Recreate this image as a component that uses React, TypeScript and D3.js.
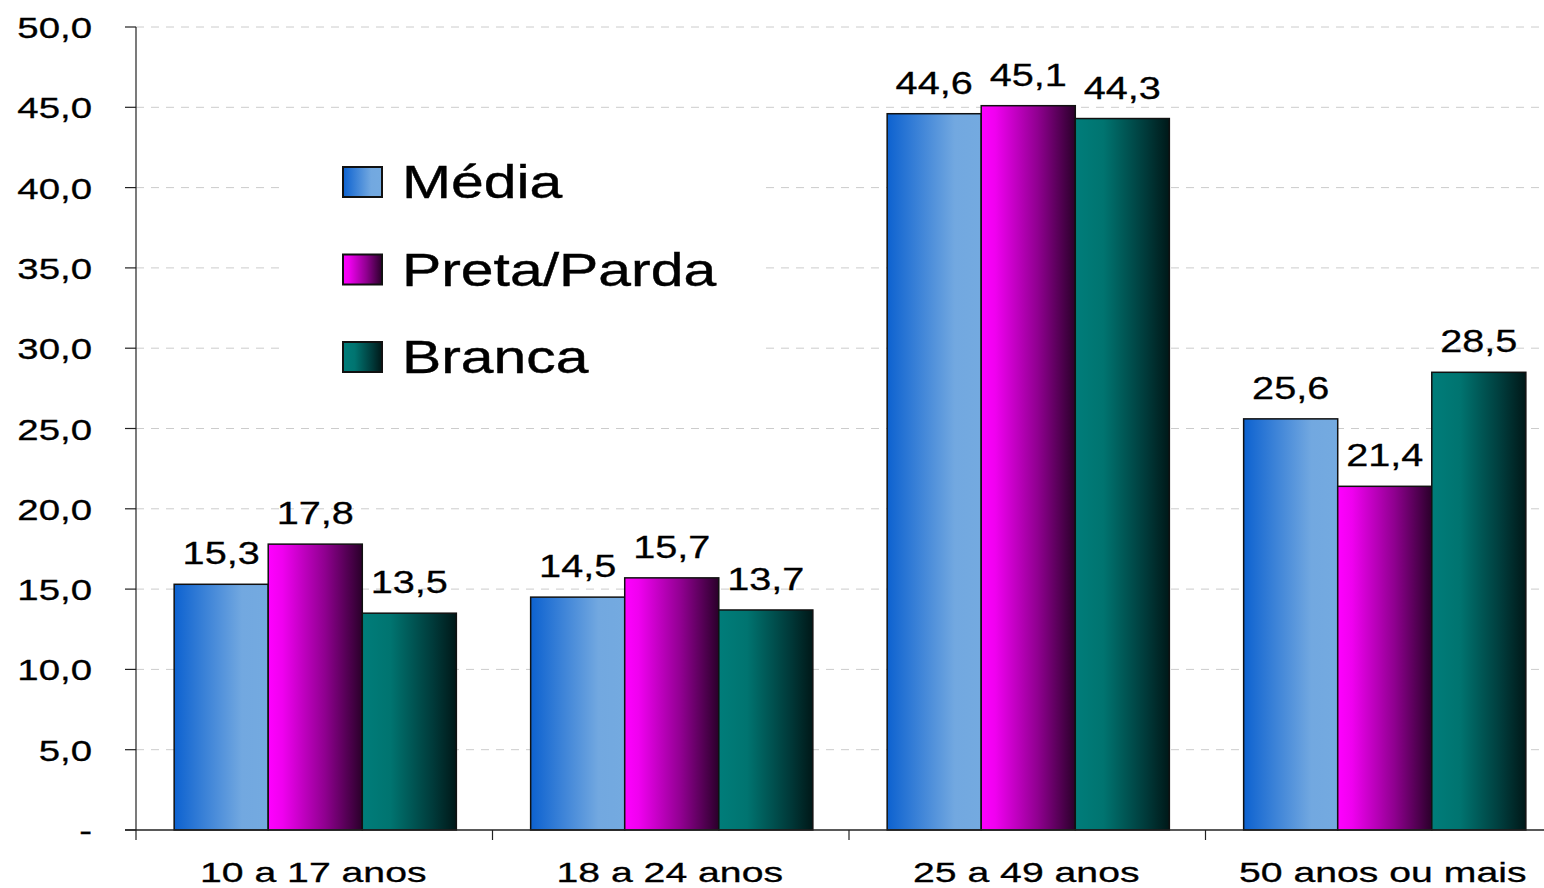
import React from "react";
import * as d3 from "d3";

// categorias e séries
const categories = ["10 a 17 anos", "18 a 24 anos", "25 a 49 anos", "50 anos ou mais"];
const seriesNames = ["Média", "Preta/Parda", "Branca"];
const media = [15.3, 14.5, 44.6, 25.6];
const pretaParda = [17.8, 15.7, 45.1, 21.4];
const branca = [13.5, 13.7, 44.3, 28.5];
const yTicks = [0, 5, 10, 15, 20, 25, 30, 35, 40, 45, 50];

const seriesValues = [media, pretaParda, branca];

// gradientes (esquerda -> direita)
const gradients = [
  { id: "g-media", stops: [["0%", "#0d62d0"], ["72%", "#72a8e0"], ["100%", "#74aae0"]] },
  { id: "g-preta", stops: [["0%", "#ff00ff"], ["15%", "#f000f0"], ["60%", "#900090"], ["100%", "#2a002a"]] },
  { id: "g-branca", stops: [["0%", "#007d7a"], ["30%", "#007470"], ["75%", "#003a3a"], ["100%", "#001818"]] },
];

const FONT = "'Liberation Sans', Arial, sans-serif";
const fmt = (v: number) => (v === 0 ? "-" : d3.format(".1f")(v).replace(".", ","));

export default function App() {
  const width = 1544;
  const height = 888;
  const left = 136;
  const top = 27;
  const bottom = 830;

  const x0 = d3.scaleBand<string>().domain(categories).range([left + 1, left + 1 + 4 * 356.5]).padding(0);
  const x1 = d3
    .scaleBand<string>()
    .domain(seriesNames)
    .range([0, x0.bandwidth()])
    .paddingInner(0)
    .paddingOuter(0.395);
  const y = d3.scaleLinear().domain([0, 50]).range([bottom, top]);

  return (
    <svg
      width={width}
      height={height}
      style={{ position: "absolute", left: 0, top: 0, background: "#fff" }}
      fontFamily={FONT}
    >
      <defs>
        {gradients.map((g) => (
          <linearGradient key={g.id} id={g.id} x1="0" y1="0" x2="1" y2="0">
            {g.stops.map(([o, c]) => (
              <stop key={o} offset={o} stopColor={c} />
            ))}
          </linearGradient>
        ))}
      </defs>

      {/* grade */}
      {yTicks.slice(1).map((t) => (
        <line
          key={t}
          x1={left}
          x2={width}
          y1={y(t)}
          y2={y(t)}
          stroke="#cccccc"
          strokeWidth={1}
          strokeDasharray="8 7"
        />
      ))}

      {/* fundo da legenda */}
      <rect x={284} y={128} width={482} height={272} fill="#fff" />

      {/* eixo Y */}
      <line x1={left} x2={left} y1={top} y2={bottom} stroke="#222" strokeWidth={1.2} />
      {yTicks.map((t) => (
        <g key={t}>
          <line x1={125} x2={left} y1={y(t)} y2={y(t)} stroke="#222" strokeWidth={1.2} />
          <text
            transform={`translate(92, ${y(t) + 11}) scale(1.28, 1)`}
            textAnchor="end"
            fontSize={30}
            fill="#000"
            stroke="#000"
            strokeWidth={0.3}
          >
            {fmt(t)}
          </text>
        </g>
      ))}

      {/* barras */}
      {categories.map((c, ci) => (
        <g key={c} transform={`translate(${x0(c)}, 0)`}>
          {seriesNames.map((s, si) => {
            const v = seriesValues[si][ci];
            const bx = x1(s)!;
            const bw = x1.bandwidth();
            return (
              <g key={s}>
                <rect
                  x={bx}
                  y={y(v)}
                  width={bw}
                  height={y(0) - y(v)}
                  fill={`url(#${gradients[si].id})`}
                  stroke="#111"
                  strokeWidth={1.5}
                />
                <text
                  transform={`translate(${bx + bw / 2}, ${y(v) - 20}) scale(1.28, 1)`}
                  textAnchor="middle"
                  fontSize={31}
                  fill="#000"
                  stroke="#000"
                  strokeWidth={0.3}
                >
                  {fmt(v)}
                </text>
              </g>
            );
          })}
        </g>
      ))}

      {/* eixo X */}
      <line x1={125} x2={width} y1={bottom} y2={bottom} stroke="#222" strokeWidth={1.5} />
      {categories.map((c) => (
        <g key={c}>
          <line x1={x0(c)! - 1} x2={x0(c)! - 1} y1={bottom} y2={bottom + 10} stroke="#222" strokeWidth={1.2} />
          <text
            transform={`translate(${x0(c)! + x0.bandwidth() / 2 - 2}, 882) scale(1.4, 1)`}
            textAnchor="middle"
            fontSize={28}
            fill="#000"
            stroke="#000"
            strokeWidth={0.3}
          >
            {c}
          </text>
        </g>
      ))}

      {/* legenda */}
      {seriesNames.map((s, i) => (
        <g key={s} transform={`translate(343, ${167 + i * 87.5})`}>
          <rect x={0} y={0} width={39} height={30} fill={`url(#${gradients[i].id})`} stroke="#111" strokeWidth={2} />
          <text
            transform="translate(59, 31) scale(1.28, 1)"
            fontSize={46}
            fill="#000"
            stroke="#000"
            strokeWidth={0.4}
          >
            {s}
          </text>
        </g>
      ))}
    </svg>
  );
}
